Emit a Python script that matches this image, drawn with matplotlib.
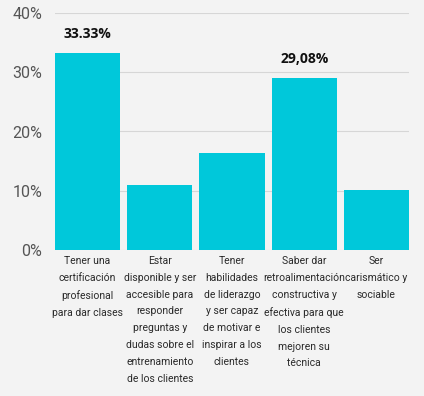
import matplotlib.pyplot as plt

categories = [
    'Tener una\ncertificación\nprofesional\npara dar clases',
    'Estar\ndisponible y ser\naccesible para\nresponder\npreguntas y\ndudas sobre el\nentrenamiento\nde los clientes',
    'Tener\nhabilidades\nde liderazgo\ny ser capaz\nde motivar e\ninspirar a los\nclientes',
    'Saber dar\nretroalimentación\nconstructiva y\nefectiva para que\nlos clientes\nmejoren su\ntécnica',
    'Ser\ncarismático y\nsociable',
]
values = [33.33, 11.0, 16.3, 29.08, 10.2]
bar_labels = ['33.33%', '', '', '29,08%', '']
yticks = [0, 10, 20, 30, 40]

plt.rcParams['font.family'] = ['Open Sans', 'DejaVu Sans']

bg = '#f3f3f3'
fig = plt.figure(figsize=(4.24, 3.96), dpi=100, facecolor=bg)
ax = fig.add_axes([55 / 424, 1 - 250 / 396, 354 / 424, 237 / 396], facecolor=bg)

x = list(range(len(values)))
ax.bar(x, values, width=0.9, color='#00c8da', zorder=3)

for i, lab in enumerate(bar_labels):
    if lab:
        ax.text(i, values[i] + 2.0, lab, ha='center', va='bottom',
                fontsize=10, fontweight='bold', color='#111111')

for i, lab in enumerate(categories):
    ax.text(i, -1.0, lab, ha='center', va='top', fontsize=7.5,
            family=['Roboto', 'DejaVu Sans'],
            color='#2a2a2a', linespacing=1.85)

ax.set_xlim(-0.45, 4.45)
ax.set_ylim(0, 40)
ax.set_yticks(yticks)
ax.set_yticklabels(['%d%%' % t for t in yticks], fontsize=11.5, color='#555555',
                   family=['Roboto', 'DejaVu Sans'])
ax.set_xticks([])
ax.tick_params(axis='y', length=0, pad=9)
ax.grid(axis='y', color='#d6d6d6', linewidth=0.8, zorder=0)
for s in ax.spines.values():
    s.set_visible(False)

fig.savefig('out.png', dpi=100, facecolor=bg)
